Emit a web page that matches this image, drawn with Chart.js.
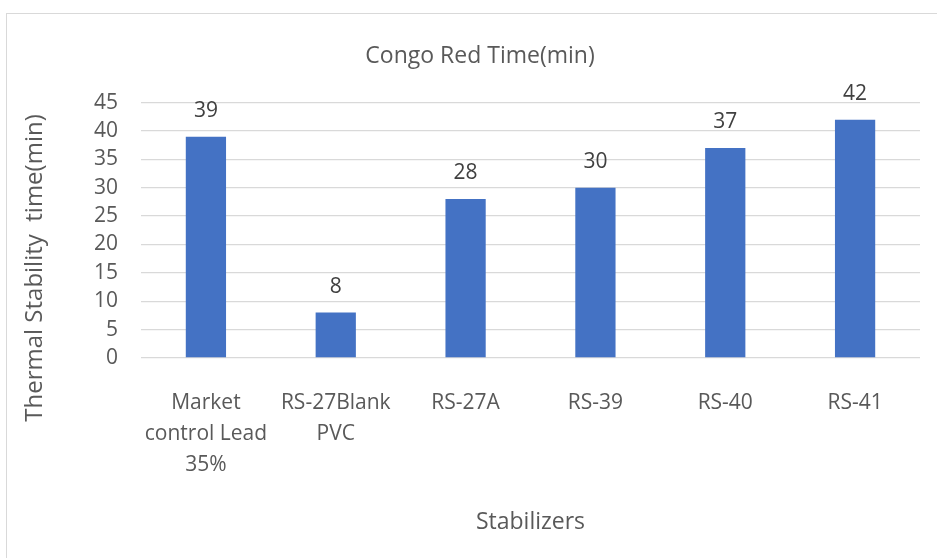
<!DOCTYPE html>
<html>
<head>
<meta charset="utf-8">
<script src="https://cdn.jsdelivr.net/npm/chart.js@4"></script>
<style>
  html, body { margin: 0; padding: 0; background: #fff; overflow: hidden; }
  /* outer chart frame, runs off the right/bottom edge like the source */
  .frame { position: absolute; left: 6px; top: 13px; width: 980px; height: 600px; border: 1px solid #d9d9d9; }
  .wrap { position: absolute; left: 0; top: 0; width: 960px; height: 558px; }
</style>
</head>
<body>
<div class="frame"></div>
<div class="wrap"><canvas id="congoChart"></canvas></div>
<script>
/* ── DATA ─────────────────────────────────────── */
const categories = [
    ['Market', 'control Lead', '35%'],
    ['RS-27Blank', 'PVC'],
    'RS-27A',
    'RS-39',
    'RS-40',
    'RS-41'
];
const stabilityTime = [39, 8, 28, 30, 37, 42];
const yTicks = [0, 5, 10, 15, 20, 25, 30, 35, 40, 45];

const chartTitle = 'Congo Red Time(min)';
const xTitle = 'Stabilizers';
const yTitle = 'Thermal Stability  time(min)';

const FONT = "'Open Sans', sans-serif";
const GREY = '#595959';

// value labels above each bar
const barLabels = {
    id: 'barLabels',
    afterDatasetsDraw(chart) {
        const ctx = chart.ctx;
        const meta = chart.getDatasetMeta(0);
        ctx.save();
        ctx.font = '21px ' + FONT;
        ctx.fillStyle = '#404040';
        ctx.textAlign = 'center';
        ctx.textBaseline = 'middle';
        meta.data.forEach((bar, i) => {
            const p = bar.getProps(['x', 'y'], true);
            ctx.fillText(String(chart.data.datasets[0].data[i]), p.x, p.y - 26);
        });
        ctx.restore();
    }
};

// y axis title, centred on the whole chart box rather than the plot
const yAxisTitle = {
    id: 'yAxisTitle',
    afterDraw(chart) {
        const ctx = chart.ctx;
        ctx.save();
        ctx.translate(35, 268);
        ctx.rotate(-Math.PI / 2);
        ctx.font = '24px ' + FONT;
        ctx.fillStyle = GREY;
        ctx.textAlign = 'center';
        ctx.textBaseline = 'middle';
        ctx.fillText(yTitle, 0, 0);
        ctx.restore();
    }
};

document.addEventListener('DOMContentLoaded', function () {
    new Chart(document.getElementById('congoChart'), {
        type: 'bar',
        data: {
            labels: categories,
            datasets: [{
                label: chartTitle,
                data: stabilityTime,
                backgroundColor: '#4472C4',
                borderWidth: 0,
                categoryPercentage: 1,
                barPercentage: 0.31
            }]
        },
        options: {
            responsive: true,
            maintainAspectRatio: false,
            animation: false,
            layout: { padding: { left: 40, right: 40, top: 0, bottom: 0 } },
            plugins: {
                legend: { display: false },
                tooltip: { enabled: false },
                title: {
                    display: true,
                    text: chartTitle,
                    color: GREY,
                    font: { family: FONT, size: 23, weight: 'normal', lineHeight: 1.2 },
                    padding: { top: 43, bottom: 32 }
                }
            },
            scales: {
                x: {
                    grid: { display: false, drawTicks: false },
                    border: { display: false },
                    ticks: {
                        color: GREY,
                        padding: 29,
                        maxRotation: 0,
                        autoSkip: false,
                        font: { family: FONT, size: 21, lineHeight: 1.48 }
                    },
                    title: {
                        display: true,
                        text: xTitle,
                        color: GREY,
                        font: { family: FONT, size: 23, lineHeight: 1.2 },
                        padding: { top: 0, bottom: 22 }
                    },
                    afterFit(scale) { scale.height = 200; }
                },
                y: {
                    min: 0,
                    max: 45,
                    afterBuildTicks(scale) { scale.ticks = yTicks.map(v => ({ value: v })); },
                    grid: { color: '#d9d9d9', lineWidth: 1.3, drawTicks: false },
                    border: { display: false },
                    ticks: {
                        color: GREY,
                        padding: 23,
                        font: { family: FONT, size: 21 }
                    },
                    afterFit(scale) { scale.width = 101; }
                }
            }
        },
        plugins: [barLabels, yAxisTitle]
    });
});
</script>
</body>
</html>
